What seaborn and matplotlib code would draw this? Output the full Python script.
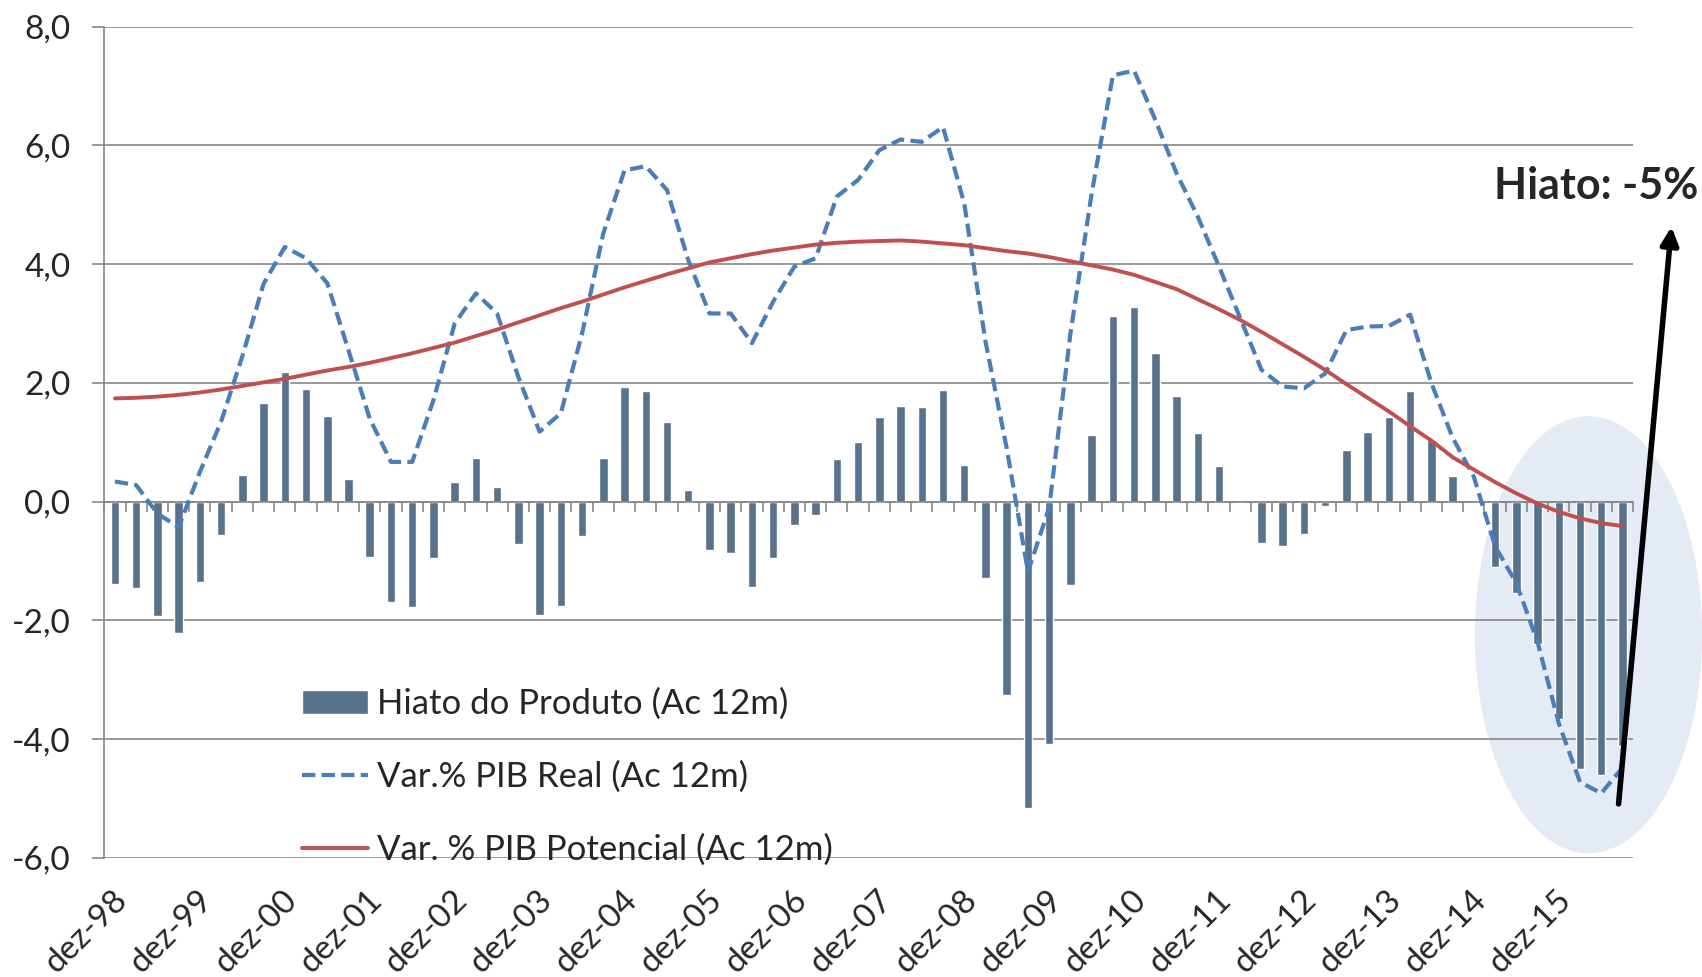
import numpy as np
import pandas as pd
import matplotlib.pyplot as plt
import matplotlib.transforms as mtransforms
import seaborn as sns
from matplotlib.patches import Ellipse, Patch
from matplotlib.lines import Line2D

# quarterly data, dez-98 .. set-16 (accumulated 12 months)
hiato = [-1.39, -1.45, -1.92, -2.21, -1.35, -0.56, 0.45, 1.66, 2.18, 1.90,
         1.44, 0.38, -0.93, -1.69, -1.77, -0.94, 0.33, 0.73, 0.25, -0.72,
         -1.91, -1.75, -0.57, 0.73, 1.93, 1.87, 1.34, 0.20, -0.81, -0.86,
         -1.44, -0.94, -0.39, -0.22, 0.72, 1.01, 1.42, 1.62, 1.59, 1.88,
         0.62, -1.29, -3.26, -5.16, -4.08, -1.41, 1.13, 3.13, 3.28, 2.51,
         1.78, 1.16, 0.60, 0.00, -0.70, -0.74, -0.54, -0.08, 0.87, 1.17,
         1.43, 1.87, 1.04, 0.44, -0.02, -1.10, -1.54, -2.39, -3.66, -4.50,
         -4.60, -4.12]
pib_real = [0.34, 0.28, -0.20, -0.43, 0.50, 1.35, 2.45, 3.67, 4.29, 4.10,
            3.68, 2.55, 1.40, 0.67, 0.67, 1.71, 3.00, 3.51, 3.17, 2.10,
            1.18, 1.49, 2.83, 4.52, 5.58, 5.65, 5.25, 4.07, 3.17, 3.17,
            2.67, 3.37, 3.96, 4.10, 5.14, 5.42, 5.92, 6.10, 6.06, 6.31,
            5.02, 2.70, 0.90, -1.18, -0.10, 2.83, 5.19, 7.18, 7.26, 6.43,
            5.53, 4.80, 3.96, 3.09, 2.22, 1.94, 1.91, 2.16, 2.89, 2.95,
            2.96, 3.15, 2.00, 1.08, 0.42, -0.75, -1.37, -2.36, -3.73, -4.72,
            -4.91, -4.48]
pib_potencial = [1.74, 1.75, 1.77, 1.80, 1.84, 1.89, 1.95, 2.01, 2.07, 2.14,
                 2.21, 2.27, 2.34, 2.42, 2.50, 2.59, 2.68, 2.79, 2.90, 3.02,
                 3.14, 3.26, 3.37, 3.49, 3.61, 3.72, 3.83, 3.93, 4.03, 4.10,
                 4.17, 4.23, 4.28, 4.33, 4.36, 4.38, 4.39, 4.40, 4.38, 4.35,
                 4.32, 4.27, 4.22, 4.18, 4.12, 4.05, 3.98, 3.91, 3.82, 3.70,
                 3.58, 3.41, 3.24, 3.06, 2.86, 2.65, 2.44, 2.22, 1.98, 1.75,
                 1.52, 1.27, 1.03, 0.75, 0.54, 0.33, 0.14, -0.03, -0.17, -0.28,
                 -0.36, -0.41]
tick_labels = ['dez-98', 'dez-99', 'dez-00', 'dez-01', 'dez-02', 'dez-03',
               'dez-04', 'dez-05', 'dez-06', 'dez-07', 'dez-08', 'dez-09',
               'dez-10', 'dez-11', 'dez-12', 'dez-13', 'dez-14', 'dez-15']
yticks = [-6, -4, -2, 0, 2, 4, 6, 8]
ytick_labels = ['-6,0', '-4,0', '-2,0', '0,0', '2,0', '4,0', '6,0', '8,0']
labels = ['Hiato do Produto (Ac 12m)', 'Var.% PIB Real (Ac 12m)',
          'Var. % PIB Potencial (Ac 12m)']

df = pd.DataFrame({'t': np.arange(len(hiato)), 'hiato': hiato,
                   'real': pib_real, 'pot': pib_potencial})

bar_color = '#58728C'
blue = '#4A7EBB'
red = '#C0504D'
grey = '#878787'
dash = (0, (3.2, 1.5))

sns.set_style('white')
plt.rcParams['font.family'] = ['Lato', 'DejaVu Sans']

fig = plt.figure(figsize=(17.02, 9.77), dpi=100)
ax = fig.add_axes([0.0613, 0.1218, 0.8982, 0.8509])

sns.barplot(data=df, x='t', y='hiato', color=bar_color, width=0.4,
            native_scale=True, saturation=1, errorbar=None, ax=ax, zorder=2)
sns.lineplot(data=df, x='t', y='real', color=blue, lw=3, linestyle=dash,
             ax=ax, zorder=3)
sns.lineplot(data=df, x='t', y='pot', color=red, lw=2.8, ax=ax, zorder=3)

ax.set_xlim(-0.5, len(hiato) - 0.5)
ax.set_ylim(-6, 8)
ax.set_xlabel('')
ax.set_ylabel('')

# highlight of the last quarters
ax.add_patch(Ellipse((69.4, -2.24), 10.7, 7.36, facecolor='#E4EBF5',
                     edgecolor='none', zorder=0.3, clip_on=False))

# y axis
ax.set_yticks(yticks)
ax.set_yticklabels(ytick_labels)
ax.yaxis.grid(True, color=grey, lw=1.2)
ax.set_axisbelow(True)
ax.tick_params(axis='y', length=8.5, width=1.2, color=grey, pad=16,
               labelsize=24, left=True)
for s in ['top', 'right']:
    ax.spines[s].set_visible(False)
ax.spines['left'].set_color(grey)
ax.spines['left'].set_linewidth(1.2)

# category axis crossing at zero, ticks between quarters
ax.spines['bottom'].set_position(('data', 0))
ax.spines['bottom'].set_color(grey)
ax.spines['bottom'].set_linewidth(1.2)
ax.set_xticks(np.arange(-0.5, len(hiato), 1))
ax.tick_params(axis='x', length=7.5, width=1.2, color=grey, bottom=True,
               labelbottom=False)

secax = ax.secondary_xaxis('bottom')
secax.set_xticks(np.arange(0, len(hiato), 4), labels=tick_labels)
secax.tick_params(length=0, pad=27, labelsize=24)
secax.spines['bottom'].set_visible(False)
shift = mtransforms.ScaledTranslation(8 / 100, 0, fig.dpi_scale_trans)
for lbl in secax.get_xticklabels():
    lbl.set_rotation(45)
    lbl.set_ha('right')
    lbl.set_va('center')
    lbl.set_rotation_mode('anchor')
    lbl.set_transform(lbl.get_transform() + shift)

handles = [Patch(facecolor=bar_color),
           Line2D([], [], color=blue, lw=3, linestyle=dash),
           Line2D([], [], color=red, lw=2.8)]
ax.legend(handles, labels, loc='upper left',
          bbox_to_anchor=(302 / 1702, 1 - 688 / 977),
          bbox_transform=fig.transFigure, frameon=False, fontsize=25,
          handlelength=1.9, handletextpad=0.25, labelspacing=1.17,
          borderpad=0, borderaxespad=0)

ax.annotate('', xy=(1671.7 / 1702, 1 - 224 / 977), xycoords='figure fraction',
            xytext=(1618.3 / 1702, 1 - 806.7 / 977), textcoords='figure fraction',
            arrowprops=dict(arrowstyle='-|>', color='black', lw=4,
                            mutation_scale=26))
fig.text(1698 / 1702, 1 - 186 / 977, 'Hiato: -5%', ha='right', va='center',
         fontsize=31, fontweight='bold')

fig.savefig('out.png', dpi=100)
